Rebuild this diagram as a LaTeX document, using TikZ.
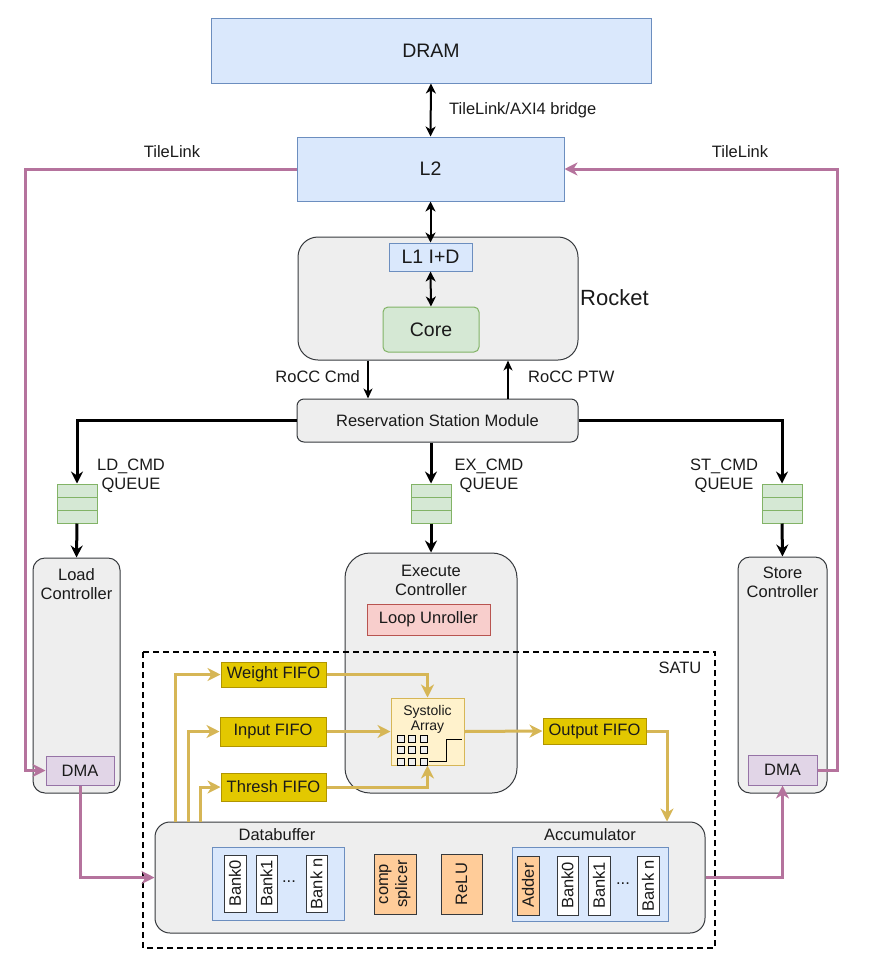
\documentclass[tikz,border=0pt]{standalone}
\usepackage{fontspec}
\setmainfont{Liberation Sans}
\usetikzlibrary{arrows.meta,calc}

\definecolor{blueF}{HTML}{DAE8FC}\definecolor{blueS}{HTML}{6C8EBF}
\definecolor{greenF}{HTML}{D5E8D4}\definecolor{greenS}{HTML}{82B366}
\definecolor{grayF}{HTML}{EEEEEE}\definecolor{grayS}{HTML}{36393D}
\definecolor{redF}{HTML}{F8CECC}\definecolor{redS}{HTML}{B85450}
\definecolor{yelF}{HTML}{E3C800}\definecolor{yelS}{HTML}{B09500}
\definecolor{saF}{HTML}{FFF2CC}\definecolor{saS}{HTML}{D6B656}
\definecolor{purF}{HTML}{E1D5E7}\definecolor{purS}{HTML}{9673A6}
\definecolor{orgF}{HTML}{FFCC99}
\definecolor{pinkL}{HTML}{B5739D}
\definecolor{yelL}{HTML}{D6B656}
\definecolor{txt}{HTML}{1A1A1A}

\newcommand{\bigfont}{\fontsize{19.5}{23}\selectfont}
\newcommand{\midfont}{\fontsize{16.5}{19}\selectfont}
\newcommand{\smallfont}{\fontsize{14}{15}\selectfont}

\tikzset{
  x=1pt, y=-1pt,
  every node/.style={text=txt, inner sep=0pt, align=center, font=\midfont},
  blk/.style={draw, rectangle, line width=1pt},
  bluebox/.style={blk, fill=blueF, draw=blueS},
  graybox/.style={blk, fill=grayF, draw=grayS},
  orgbox/.style={blk, fill=orgF, draw=grayS},
  fifo/.style={blk, fill=yelF, draw=yelS},
  whitebox/.style={blk, fill=white, draw=grayS},
  queue/.style={blk, fill=greenF, draw=greenS, minimum width=40, minimum height=39,
    path picture={
      \draw[greenS, line width=1pt]
        ($(path picture bounding box.north west)!1/3!(path picture bounding box.south west)$) --
        ($(path picture bounding box.north east)!1/3!(path picture bounding box.south east)$)
        ($(path picture bounding box.north west)!2/3!(path picture bounding box.south west)$) --
        ($(path picture bounding box.north east)!2/3!(path picture bounding box.south east)$);
    }},
  dbl/.style={line width=2pt, {Stealth[length=10pt,width=10pt,inset=3pt]}-{Stealth[length=10pt,width=10pt,inset=3pt]}},
  thin/.style={line width=1.6pt, -{Stealth[length=10pt,width=9pt,inset=3pt]}},
  thick/.style={line width=3pt, -{Stealth[length=12pt,width=12pt,inset=4pt]}},
  ylw/.style={yelL, line width=3pt, -{Stealth[length=13pt,width=13pt,inset=4pt]}},
  pnk/.style={pinkL, line width=3pt, -{Stealth[length=13pt,width=13pt,inset=4pt]}},
}

\begin{document}
\begin{tikzpicture}
\useasboundingbox (0,0) rectangle (871,967);

% memory hierarchy
\node[bluebox, minimum width=440, minimum height=65, font=\bigfont] (dram) at (431,50.5) {DRAM};
\node[bluebox, minimum width=267, minimum height=64, font=\bigfont] (l2) at (430.5,169) {L2};

% Rocket tile
\node[graybox, rounded corners=20, minimum width=280, minimum height=123] (rocket) at (438,298.5) {};
\node[bluebox, minimum width=83, minimum height=28, font=\bigfont] (l1) at (430.5,257) {L1 I+D};
\node[blk, fill=greenF, draw=greenS, rounded corners=5, minimum width=96, minimum height=45, font=\bigfont] (core) at (431,329.5) {Core};
\node[anchor=west, font=\fontsize{22}{25}\selectfont] (rocketlbl) at (580,298) {Rocket};

\draw[dbl] (dram.south) -- (l2.north);
\node[anchor=west] (bridge) at (449,110) {TileLink/AXI4 bridge};
\draw[dbl] (l2.south) -- (l1.north);
\draw[dbl] (l1.south) -- (core.north);

% reservation station
\node[graybox, rounded corners=7, minimum width=281, minimum height=43] (rs) at (437.5,420.5) {Reservation Station Module};
\coordinate (cmdx) at (368,0);
\coordinate (ptwx) at (508,0);
\draw[thin] (rocket.south -| cmdx) -- (rs.north -| cmdx);
\draw[thin] (rs.north -| ptwx) -- (rocket.south -| ptwx);
\node[anchor=east] (cmdlbl) at (360,377) {RoCC Cmd};
\node[anchor=west] (ptwlbl) at (528,377) {RoCC PTW};

% command queues
\node[queue] (ldq) at (77,503.5) {};
\node[queue] (exq) at (431,503.5) {};
\node[queue] (stq) at (782,503.5) {};
\node (ldqlbl) at (131,476) {LD\_CMD\\QUEUE};
\node (exqlbl) at (489,476) {EX\_CMD\\QUEUE};
\node (stqlbl) at (724,476) {ST\_CMD\\QUEUE};
\draw[thick] (rs.west) -| (ldq.north);
\draw[thick] (rs.east) -| (stq.north);
\draw[thick] (rs.south -| exq.north) -- (exq.north);

% controllers
\node[graybox, rounded corners=12, minimum width=87, minimum height=235] (lc) at (76.5,675.5) {};
\node (lclbl) at (76.5,584.5) {Load\\Controller};
\node[graybox, rounded corners=25, minimum width=172, minimum height=240] (ec) at (431,673) {};
\node (eclbl) at (431,580) {Execute\\Controller};
\node[graybox, rounded corners=12, minimum width=89, minimum height=236] (sc) at (782.5,675) {};
\node (sclbl) at (782.5,582) {Store\\Controller};
\node[blk, fill=redF, draw=redS, minimum width=123, minimum height=31] (lu) at (428.5,619.5) {Loop Unroller};
\draw[thick] (ldq.south) -- (lc.north);
\draw[thick] (exq.south) -- (ec.north);
\draw[thick] (stq.south) -- (sc.north);

\node[blk, fill=purF, draw=purS, minimum width=68, minimum height=29] (ldma) at (80,770.5) {DMA};
\node[blk, fill=purF, draw=purS, minimum width=69, minimum height=30] (sdma) at (782.5,770) {DMA};

% SATU
\draw[line width=2pt, dash pattern=on 6pt off 4pt] (143,652) rectangle (715,948);
\node (satulbl) at (680,668) {SATU};

\node[fifo, minimum width=105, minimum height=25] (wf) at (273.5,674.5) {Weight FIFO};
\node[fifo, minimum width=106, minimum height=29] (inf) at (273,731.5) {Input FIFO};
\node[fifo, minimum width=105, minimum height=28] (tf) at (273.5,787) {Thresh FIFO};
\node[fifo, minimum width=103, minimum height=26] (of) at (594.5,731) {Output FIFO};

% systolic array with its PE grid and step icon
\node[blk, fill=saF, draw=saS, minimum width=73, minimum height=67] (sa) at (427.5,731.5) {};
\node[font=\smallfont] (salbl) at (427.5,719) {Systolic\\Array};
\foreach \i in {0,1,2}{
  \foreach \j in {0,1,2}{
    \draw[fill=grayF, draw=black, line width=0.8pt] (397+11.5*\i,735+11.5*\j) rectangle ++(7,7);
  }
}
\draw[black, line width=1pt] (429,761) -- (446,761) -- (446,739) -- (462,739);

% data buffer / accumulator
\node[graybox, rounded corners=15, minimum width=550, minimum height=111] (db) at (430,877.5) {};
\node (dblbl) at (277,835) {Databuffer};
\node (acclbl) at (590,835) {Accumulator};
\node[bluebox, minimum width=132, minimum height=73] (dbin) at (278,883.5) {};
\node[whitebox, minimum width=22, minimum height=57] (b0) at (235,883.5) {};
\node[rotate=90] at (b0) {Bank0};
\node[whitebox, minimum width=21, minimum height=57] (b1) at (266.5,883.5) {};
\node[rotate=90] at (b1) {Bank1};
\node[whitebox, minimum width=21, minimum height=57] (bn) at (316.5,883.5) {};
\node[rotate=90] at (bn) {Bank n};
\node (dbdots) at (289,882) {...};
\node[orgbox, minimum width=42, minimum height=60] (comp) at (395,884) {};
\node[rotate=90] at (comp) {comp\\splicer};
\node[orgbox, minimum width=41, minimum height=60] (relu) at (461.5,884) {};
\node[rotate=90] at (relu) {ReLU};
\node[bluebox, minimum width=156, minimum height=74] (accin) at (590,884) {};
\node[orgbox, minimum width=22, minimum height=59] (adder) at (528,885.5) {};
\node[rotate=90] at (adder) {Adder};
\node[whitebox, minimum width=21, minimum height=59] (ab0) at (567.5,885.5) {};
\node[rotate=90] at (ab0) {Bank0};
\node[whitebox, minimum width=22, minimum height=59] (ab1) at (599,885.5) {};
\node[rotate=90] at (ab1) {Bank1};
\node[whitebox, minimum width=22, minimum height=59] (abn) at (648,885.5) {};
\node[rotate=90] at (abn) {Bank n};
\node (accdots) at (623,884) {...};

% operand paths
\coordinate (t1) at (175,822);
\coordinate (t2) at (188,822);
\coordinate (t3) at (200,822);
\draw[ylw] (t1) |- (wf.west);
\draw[ylw] (t2) |- (inf.west);
\draw[ylw] (t3) |- (tf.west);
\draw[ylw] (wf.east) -| (sa.north);
\draw[ylw] (inf.east) -- (sa.west);
\draw[ylw] (tf.east) -| (sa.south);
\draw[ylw] (sa.east) -- (of.west);
\coordinate (ox) at (667,0);
\draw[ylw] (of.east) -| (ox |- db.north);

% TileLink paths
\coordinate (pl) at (25,0);
\coordinate (pr) at (837,0);
\draw[pnk] (l2.west) -| (pl |- ldma.west) -- (ldma.west);
\draw[pnk] (ldma.south) |- (db.west);
\draw[pnk] (db.east) -| (sdma.south);
\draw[pnk] (sdma.east) -| (pr |- l2.east) -- (l2.east);
\node (tlleft) at (172,152) {TileLink};
\node (tlright) at (740,152) {TileLink};
\end{tikzpicture}
\end{document}
